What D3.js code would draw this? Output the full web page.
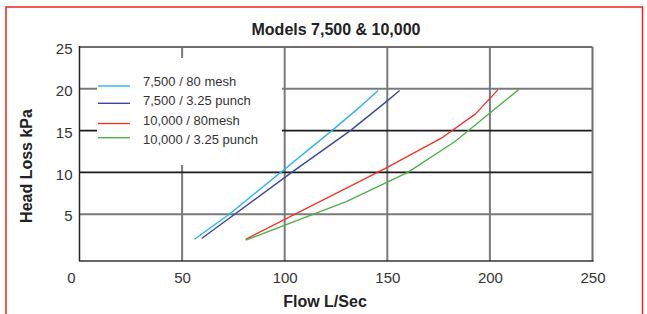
<!DOCTYPE html>
<html>
<head>
<meta charset="utf-8">
<script src="https://cdn.jsdelivr.net/npm/d3@7"></script>
<style>
  html, body { margin: 0; padding: 0; background: #fff; }
  svg { display: block; font-family: "Liberation Sans", Arial, sans-serif; }
</style>
</head>
<body>
<svg id="chart" width="647" height="314"></svg>
<script>
// ---- data ----
const title = "Models 7,500 & 10,000";
const xLabel = "Flow L/Sec";
const yLabel = "Head Loss kPa";
const xTicks = [0, 50, 100, 150, 200, 250];
const yTicks = [5, 10, 15, 20, 25];
const seriesNames = ["7,500 / 80 mesh", "7,500 / 3.25 punch", "10,000 / 80mesh", "10,000 / 3.25 punch"];
const seriesColors = ["#2bb5ea", "#3b4a98", "#ee3427", "#4fb04a"];
const mesh7500 = [[56, 2], [73, 5], [123, 15], [137, 17.9], [145.5, 19.8]];
const punch7500 = [[59.5, 2.1], [103.4, 10], [132, 15], [149.7, 18.5], [156, 19.8]];
const mesh10000 = [[81, 2], [150, 10.6], [177, 14.2], [193, 17], [204, 19.9]];
const punch10000 = [[81, 1.9], [130, 6.5], [160, 10], [183, 13.7], [214, 19.9]];
const seriesData = [mesh7500, punch7500, mesh10000, punch10000];
const darkGridValues = [10, 15];

// ---- chart ----
const svg = d3.select("#chart");
const x = d3.scaleLinear().domain([0, 250]).range([79.5, 592.5]);
const y = d3.scaleLinear().domain([0, 25]).range([256, 47]);
const frameBottom = 261;

// red border
svg.append("rect").attr("x", 6).attr("y", 7).attr("width", 636.5).attr("height", 320)
  .attr("fill", "none").attr("stroke", "#e8261d").attr("stroke-width", 1.5);

// title
svg.append("text").attr("x", 336).attr("y", 35).attr("text-anchor", "middle")
  .attr("font-size", 16).attr("font-weight", "bold").attr("fill", "#222").text(title);

const grid = svg.append("g");
// vertical gridlines
grid.selectAll("line.v").data(xTicks.slice(1, -1)).join("line")
  .attr("x1", d => x(d)).attr("x2", d => x(d))
  .attr("y1", y(25)).attr("y2", frameBottom)
  .attr("stroke", "#7a7a7a").attr("stroke-width", 2);
// horizontal gridlines
grid.selectAll("line.h").data(yTicks.slice(0, -1)).join("line")
  .attr("x1", x(0)).attr("x2", x(250))
  .attr("y1", d => y(d)).attr("y2", d => y(d))
  .attr("stroke", d => darkGridValues.includes(d) ? "#1a1a1a" : "#7a7a7a")
  .attr("stroke-width", d => darkGridValues.includes(d) ? 1.6 : 2);
// frame: top and right grey, left and bottom dark
svg.append("line").attr("x1", x(0)).attr("x2", x(250)).attr("y1", y(25)).attr("y2", y(25))
  .attr("stroke", "#6e6e6e").attr("stroke-width", 2);
svg.append("line").attr("x1", x(250)).attr("x2", x(250)).attr("y1", y(25)).attr("y2", frameBottom)
  .attr("stroke", "#6e6e6e").attr("stroke-width", 2);
svg.append("line").attr("x1", x(0)).attr("x2", x(0)).attr("y1", y(25) - 1).attr("y2", frameBottom)
  .attr("stroke", "#222").attr("stroke-width", 1.5);
svg.append("line").attr("x1", x(0) - 0.5).attr("x2", x(250) + 1).attr("y1", frameBottom).attr("y2", frameBottom)
  .attr("stroke", "#333").attr("stroke-width", 1.6);

// legend background (hides gridlines)
svg.append("rect").attr("x", 97).attr("y", 58).attr("width", 185).attr("height", 107).attr("fill", "#fff");

// axes (labels only)
const xAxis = svg.append("g").attr("transform", `translate(0,${frameBottom})`)
  .call(d3.axisBottom(x).tickValues(xTicks).tickSize(0).tickPadding(11.5).tickFormat(d3.format("d")));
xAxis.select(".domain").remove();
xAxis.selectAll("text").attr("font-size", 15).attr("fill", "#333")
  .attr("font-family", "Liberation Sans, Arial, sans-serif");
xAxis.selectAll(".tick").filter(d => d === 0).select("text").attr("dx", -8.5);

const yAxis = svg.append("g").attr("transform", `translate(${x(0)},0)`)
  .call(d3.axisLeft(y).tickValues(yTicks).tickSize(0).tickPadding(7).tickFormat(d3.format("d")));
yAxis.select(".domain").remove();
yAxis.selectAll("text").attr("font-size", 15).attr("fill", "#333").attr("dy", "0.45em")
  .attr("font-family", "Liberation Sans, Arial, sans-serif");

// axis titles
svg.append("text").attr("x", 325).attr("y", 307).attr("text-anchor", "middle")
  .attr("font-size", 16).attr("font-weight", "bold").attr("fill", "#222").text(xLabel);
svg.append("text").attr("transform", "translate(32,166) rotate(-90)").attr("text-anchor", "middle")
  .attr("font-size", 16).attr("font-weight", "bold").attr("fill", "#222").text(yLabel);

// series lines
const line = d3.line().x(d => x(d[0])).y(d => y(d[1]));
svg.append("g").selectAll("path").data(seriesData).join("path")
  .attr("d", line).attr("fill", "none")
  .attr("stroke", (d, i) => seriesColors[i]).attr("stroke-width", 1.4)
  .attr("stroke-linejoin", "round");

// legend
const legY = [86, 103.3, 123.5, 137.7];
const legTextY = [86, 105, 125, 144.3];
const leg = svg.append("g");
leg.selectAll("line").data(seriesNames).join("line")
  .attr("x1", 98).attr("x2", 130)
  .attr("y1", (d, i) => legY[i]).attr("y2", (d, i) => legY[i])
  .attr("stroke", (d, i) => seriesColors[i]).attr("stroke-width", 1.4);
leg.selectAll("text").data(seriesNames).join("text")
  .attr("x", 143).attr("y", (d, i) => legTextY[i])
  .attr("font-size", 13).attr("fill", "#333").text(d => d);
</script>
</body>
</html>
